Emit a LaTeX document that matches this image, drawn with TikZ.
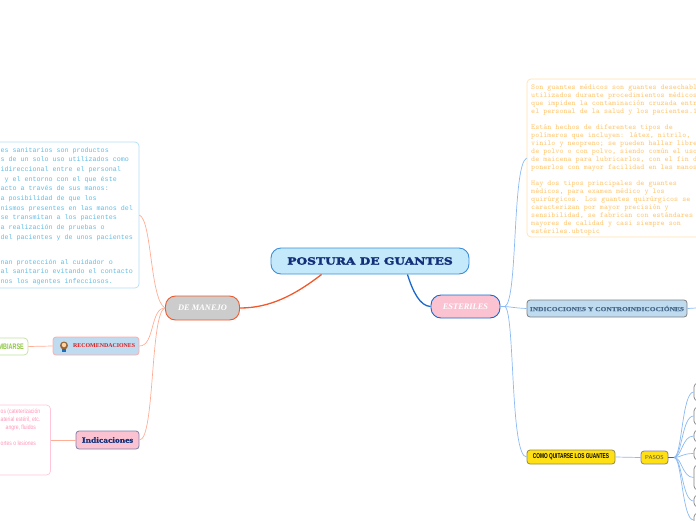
\documentclass[tikz,border=0pt]{standalone}
\usepackage{fontspec}
\usetikzlibrary{positioning}
\setmainfont{Liberation Serif}
\setmonofont{Liberation Mono}
\newfontfamily\monofont{Liberation Mono}
\newfontfamily\slabfont{Latin Modern Mono}
\newfontfamily\narrowfont[FakeStretch=0.68]{Liberation Sans}
\newfontfamily\pinkfont[FakeStretch=0.8]{Liberation Sans}
\newfontfamily\heavyfont[FakeStretch=1.25,BoldFeatures={FakeBold=2.5}]{DejaVu Serif}
\newfontfamily\wideserif[FakeStretch=1.2,BoldFeatures={FakeBold=0.6}]{Liberation Serif}
\definecolor{manejoline}{HTML}{F2582A}
\definecolor{manejothin}{HTML}{FFAE96}
\definecolor{estline}{HTML}{1A68CC}
\definecolor{estthin}{HTML}{8CBAF2}
\definecolor{navytext}{HTML}{12307A}
\definecolor{titlefill}{HTML}{C4E9FB}
\definecolor{titleline}{HTML}{3A8FD8}
\definecolor{pinkfill}{HTML}{FBC2D2}
\definecolor{skyline}{HTML}{B4DEF4}
\definecolor{skytext}{HTML}{62BEE6}
\definecolor{sandline}{HTML}{FFE2AE}
\definecolor{sandtext}{HTML}{FFC873}
\definecolor{rosetext}{HTML}{FF96BC}
\definecolor{roseline}{HTML}{FFC6DA}
\definecolor{palefill}{HTML}{BEDBEF}
\definecolor{limeline}{HTML}{BFE29A}
\definecolor{limetext}{HTML}{8CC63F}
\definecolor{yellowfill}{HTML}{FFE014}
\definecolor{slatetext}{HTML}{4A6A8C}

\begin{document}
\begin{tikzpicture}[
    x=1pt, y=-1pt,
    every node/.style={inner sep=0pt},
    roundbox/.style={draw, rounded corners=4pt, line width=0.7pt, fill=white},
    topicbox/.style={draw, rounded corners=3pt, line width=0.8pt, align=center},
    mainbox/.style={draw, rounded corners=10pt, line width=0.9pt, align=center},
    whitelabel/.style={text=white, font=\fontsize{8.4}{10}\selectfont\bfseries\itshape},
    monotext/.style={font=\monofont\fontsize{6.67}{9.7}\selectfont, align=left, anchor=north west},
    thinorange/.style={manejothin, line width=0.7pt},
    thinblue/.style={estthin, line width=0.7pt},
]
\useasboundingbox (0,0) rectangle (696,520);
\clip (0,0) rectangle (696,520);

% ── Central node ──
\node[mainbox, fill=titlefill, draw=titleline, minimum width=198pt, minimum height=26pt]
    (postura) at (370,261) {\heavyfont\fontsize{9.8}{10}\selectfont\bfseries\color{navytext}POSTURA DE GUANTES};

% ── Main branches ──
\node[mainbox, fill=black!20, draw=manejoline, minimum width=74pt, minimum height=24pt, whitelabel]
    (manejo) at (202.5,308) {DE MANEJO};
\node[mainbox, fill=pinkfill, draw=estline, minimum width=69pt, minimum height=23pt, whitelabel]
    (esteriles) at (465.5,306.5) {ESTERILES};

% ── Left side ──
\node[roundbox, draw=skyline, minimum width=179pt, minimum height=146pt]
    (guantebox) at (49.5,215) {};
\node[monotext, text=skytext] (guantetext) at (0.5,147) {%
es sanitarios son productos\\
s de un solo uso utilizados como\\
idireccional entre el personal\\
\hspace*{4pt}y el entorno con el que éste\\
acto a través de sus manos:\\
a posibilidad de que los\\
nismos presentes en las manos del\\
se transmitan a los pacientes\\
a realización de pruebas o\\
del pacientes y de unos pacientes\\[15pt]
nan protección al cuidador o\\
al sanitario evitando el contacto\\
nos los agentes infecciosos.};

\node[topicbox, fill=palefill, draw=pink!80!red!80, minimum width=86pt, minimum height=18pt]
    (recomend) at (96,346) {};
\node[anchor=west, text=red!85!black!90, font=\fontsize{5.9}{7}\selectfont\bfseries]
    (recomendtext) at (73,346) {RECOMENDACIONES};
\node[circle, fill=brown!80!black, minimum size=8pt] (iconhair) at (64,345.5) {};
\node[circle, fill=orange!35, minimum size=4.5pt] (iconface) at (64,345) {};
\fill[cyan!50!blue] (62,349) rectangle (66,351.5);

\node[roundbox, draw=limeline, minimum width=48pt, minimum height=17pt]
    (cambiarse) at (4,346.5) {};
\node[anchor=east, text=limetext, font=\narrowfont\fontsize{8}{9}\selectfont\bfseries]
    (cambiarsetext) at (24,346.5) {MBIARSE};

\node[topicbox, fill=pinkfill, draw=blue!30!black!50, minimum width=63pt, minimum height=18pt, text=navytext,
      font=\wideserif\fontsize{8}{9}\selectfont\bfseries]
    (indicaciones) at (107.5,440) {Indicaciones};
\node[roundbox, draw=roseline, minimum width=100pt, minimum height=70pt]
    (pinkbox) at (0.5,440) {};
\node[monotext, font=\pinkfont\fontsize{6.3}{7.9}\selectfont, text=rosetext] (pinktext) at (0.5,409) {%
os (cateterización\\
aterial estéril, etc.\\
\hspace*{5pt}angre, fluidos\\[7.9pt]
ortes o lesiones};

% ── Right side ──
\node[roundbox, draw=sandline, minimum width=190pt, minimum height=158pt]
    (descbox) at (622,158) {};
\node[monotext, text=sandtext, font=\slabfont\fontsize{7.62}{8}\selectfont] (desctext) at (531,84.5) {%
Son guantes médicos son guantes desechables\\
utilizados durante procedimientos médicos\\
que impiden la contaminación cruzada entre\\
el personal de la salud y los pacientes.1\\[8pt]
Están hechos de diferentes tipos de\\
polímeros que incluyen: látex, nitrilo,\\
vinilo y neopreno; se pueden hallar libres\\
de polvo o con polvo, siendo común el uso\\
de maicena para lubricarlos, con el fin de\\
ponerlos con mayor facilidad en las manos\\[8pt]
Hay dos tipos principales de guantes\\
médicos, para examen médico y los\\
quirúrgicos. Los guantes quirúrgicos se\\
caracterizan por mayor precisión y\\
sensibilidad, se fabrican con estándares\\
mayores de calidad y casi siempre son\\
estériles.ubtopic};

\node[topicbox, fill=palefill, draw=black!50, minimum width=160pt, minimum height=17pt, text=slatetext,
      font=\wideserif\fontsize{6.2}{8}\selectfont\bfseries]
    (contra) at (607,308.5) {INDICOCIONES Y CONTROINDICOCIÓNES};
\coordinate (contraend) at (696,308);

\node[topicbox, fill=yellowfill, draw=black!50!yellow, minimum width=88pt, minimum height=14pt,
      font=\narrowfont\fontsize{7}{8}\selectfont\bfseries]
    (quitarse) at (571,457) {COMO QUITARSE LOS GUANTES};
\node[topicbox, fill=yellowfill, draw=blue!40!black!50, minimum width=27pt, minimum height=13pt, text=black!70,
      font=\fontsize{5.7}{6}\selectfont\sffamily]
    (pasos) at (654.5,457.5) {PASOS};

\node[roundbox, draw=black!50, minimum width=20pt, minimum height=18pt] (stepa) at (704,392) {};
\node[roundbox, draw=black!50, minimum width=20pt, minimum height=18pt] (stepb) at (704,416) {};
\node[roundbox, draw=black!50, minimum width=20pt, minimum height=12pt] (stepc) at (704,436) {};
\node[roundbox, draw=black!50, minimum width=20pt, minimum height=13pt] (stepd) at (704,453.5) {};
\node[roundbox, draw=black!50, minimum width=20pt, minimum height=25pt] (stepe) at (704,477.5) {};
\node[roundbox, draw=black!50, minimum width=20pt, minimum height=12pt] (stepf) at (704,501) {};
\node[roundbox, draw=black!50, minimum width=20pt, minimum height=14pt] (stepg) at (704,520) {};

% ── Connectors ──
\draw[manejoline, line width=1.3pt] (postura.south west) ++(51,0) coordinate (posturaleft)
    .. controls (295,295) and (270,308) .. (manejo.east);
\draw[estline, line width=1.3pt] (postura.south east) ++(-62,0) coordinate (posturaright)
    .. controls (413,292) and (420,306) .. (esteriles.west);

\draw[thinorange] (manejo.west) .. controls (150,300) and (152,220) .. (guantebox.east |- 0,215);
\draw[thinorange] (manejo.west) .. controls (150,308) and (155,346) .. (recomend.east);
\draw[thinorange] (manejo.west) .. controls (150,312) and (155,440) .. (indicaciones.east);
\draw[thinorange] (recomend.west) -- (cambiarse.east);
\draw[thinorange] (indicaciones.west) -- (pinkbox.east);

\coordinate (estfan) at (505,306.5);
\draw[estthin, line width=1.2pt] (esteriles.east) -- (estfan);
\draw[thinblue] (estfan) .. controls (518,300) and (512,165) .. (descbox.west);
\draw[thinblue] (estfan) .. controls (512,307) and (515,308) .. (contra.west);
\draw[thinblue] (estfan) .. controls (515,313) and (510,457) .. (quitarse.west);
\draw[thinblue] (contra.east) -- (contraend);
\draw[thinblue] (quitarse.east) -- (pasos.west);

\coordinate (pasosfan) at (674,457.5);
\draw[estline, line width=1pt] (pasos.east) -- (pasosfan);
\foreach \stepname in {stepa,stepb,stepc,stepd,stepe,stepf,stepg}
    \draw[thinblue] (pasosfan) .. controls (682,457) and (682,0 |- \stepname.west) .. (\stepname.west);

\end{tikzpicture}
\end{document}
